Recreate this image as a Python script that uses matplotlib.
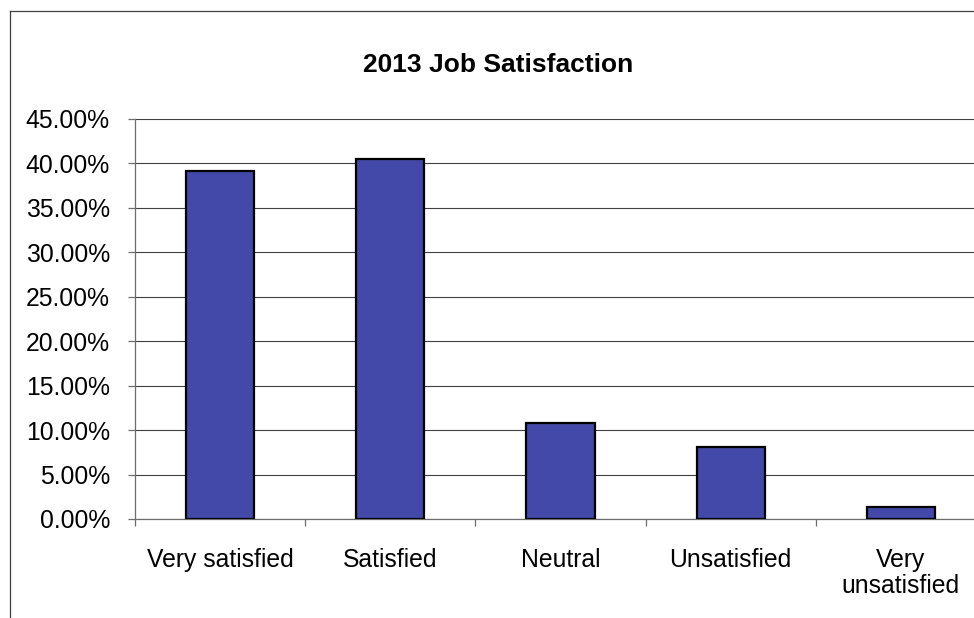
import matplotlib
matplotlib.use("Agg")
import matplotlib.pyplot as plt
from matplotlib.lines import Line2D
from matplotlib.ticker import FuncFormatter, MultipleLocator

# data
categories = ["Very satisfied", "Satisfied", "Neutral", "Unsatisfied",
              "Very\nunsatisfied"]
shares_pct = [39.2, 40.5, 10.8, 8.1, 1.4]
title = "2013 Job Satisfaction"

BAR_COLOR = "#4349A8"
GRID_COLOR = "#404040"
AXIS_COLOR = "#6e6e6e"

plt.rcParams["font.family"] = ["Liberation Sans", "DejaVu Sans"]

W, H = 974, 618
fig = plt.figure(figsize=(W / 100, H / 100), dpi=100)
fig.patch.set_facecolor("white")

# plot area in pixels: left 135, right ~986 (runs past the edge), y 119..519
ax = fig.add_axes([135 / W, (H - 519) / H, (986 - 135) / W, 400 / H])

x = list(range(len(categories)))
ax.bar(x, shares_pct, width=0.4, color=BAR_COLOR, edgecolor="black",
       linewidth=1.6, zorder=3)

ax.set_xlim(-0.5, len(categories) - 0.5)
ax.set_ylim(0, 45)
ax.yaxis.set_major_locator(MultipleLocator(5))
ax.yaxis.set_major_formatter(FuncFormatter(lambda v, _: f"{v:.2f}%"))
ax.grid(axis="y", color=GRID_COLOR, linewidth=0.8, zorder=0)

for side in ("top", "right"):
    ax.spines[side].set_visible(False)
for side in ("left", "bottom"):
    ax.spines[side].set_color(AXIS_COLOR)
    ax.spines[side].set_linewidth(0.9)

ax.tick_params(axis="y", direction="out", length=5, width=0.9,
               color=AXIS_COLOR, labelsize=17.8, pad=13)

# category labels at bar centres, tick marks between categories
ax.set_xticks(x)
ax.set_xticklabels(categories, fontsize=17.8, linespacing=1.1)
ax.tick_params(axis="x", which="major", length=0, pad=21)
ax.set_xticks([i - 0.5 for i in range(len(categories) + 1)], minor=True)
ax.tick_params(axis="x", which="minor", direction="out", length=5,
               width=0.9, color=AXIS_COLOR)

fig.text(498 / W, 1 - 72 / H, title, ha="center", va="baseline",
         fontsize=19, fontweight="bold")

# chart frame: left and top edges visible, the rest runs off the image
fig.add_artist(Line2D([9.5 / W, 9.5 / W], [0, 1 - 11 / H],
                      transform=fig.transFigure, color="#404040", lw=0.9))
fig.add_artist(Line2D([9.5 / W, 1], [1 - 11 / H, 1 - 11 / H],
                      transform=fig.transFigure, color="#404040", lw=0.9))

fig.savefig("out.png", dpi=100)
